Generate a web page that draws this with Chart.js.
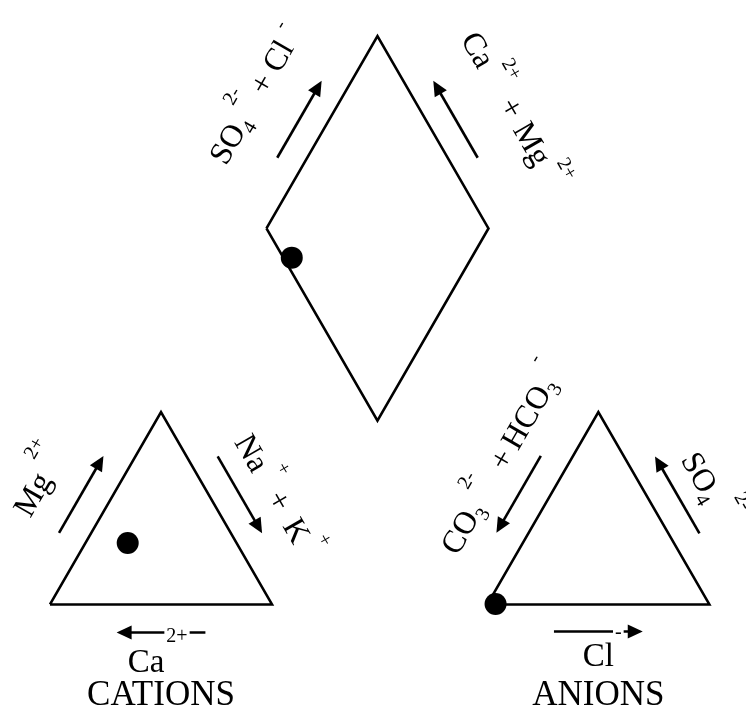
<!DOCTYPE html>
<html>
<head>
<meta charset="utf-8">
<script src="https://cdn.jsdelivr.net/npm/chart.js@4.4.1/dist/chart.umd.min.js"></script>
<style>
  html, body { margin: 0; padding: 0; background: #fff; }
</style>
</head>
<body>
<canvas id="piper" width="746" height="713"></canvas>
<script>
// one water sample, % of meq/L
const cationNames = ['Ca2+', 'Mg2+', 'Na+ + K+'];
const cationValues = [49, 32, 19];
const anionNames = ['Cl-', 'SO4 2-', 'CO3 2- + HCO3-'];
const anionValues = [3.6, 0.2, 96.2];

// piper layout, in triangle units (side = 100)
const H = Math.sqrt(3) / 2 * 100;
const ANION_X0 = 197;
const DIA_LEFT = [97.5, 169.4];

const cat = { L: [0, 0], R: [100, 0], T: [50, H] };
const an = { L: [ANION_X0, 0], R: [ANION_X0 + 100, 0], T: [ANION_X0 + 50, H] };
const dia = {
  L: DIA_LEFT,
  T: [DIA_LEFT[0] + 50, DIA_LEFT[1] + H],
  R: [DIA_LEFT[0] + 100, DIA_LEFT[1]],
  B: [DIA_LEFT[0] + 50, DIA_LEFT[1] - H]
};

function pct(arr) {
  const s = arr.reduce((a, b) => a + b, 0);
  return arr.map(v => v / s * 100);
}
const [ca, mg, nak] = pct(cationValues);
const [cl, so4, hco3] = pct(anionValues);

const cationPt = { x: nak + mg / 2, y: mg / 100 * H };
const anionPt = { x: ANION_X0 + cl + so4 / 2, y: so4 / 100 * H };
// diamond: p = SO4 + Cl, q = Ca + Mg
const p = cl + so4, q = ca + mg;
const diamondPt = { x: dia.B[0] + (p - q) / 2, y: dia.B[1] + (p + q) / 100 * H };

const toPts = vs => vs.map(v => ({ x: v[0], y: v[1] }));
const outline = (vs) => ({
  data: toPts(vs),
  showLine: true,
  borderColor: '#000',
  borderWidth: 2.6,
  borderJoinStyle: 'miter',
  pointRadius: 0,
  fill: false,
  clip: false
});

// arrows: along edge a->b, pointing to b
const arrows = [
  { a: cat.L, b: cat.T, off: 28 },
  { a: cat.T, b: cat.R, off: 27 },
  { a: cat.R, b: cat.L, off: 28 },
  { a: an.T, b: an.L, off: 28 },
  { a: an.R, b: an.T, off: 27 },
  { a: an.L, b: an.R, off: 27 },
  { a: dia.L, b: dia.T, off: 26 },
  { a: dia.R, b: dia.T, off: 26 }
];

const SUB = -7;
const labels = [
  { a: cat.L, b: cat.T, f: 0.29, off: 60, parts: [{ t: 'Mg' }, { t: '2+', s: 20, r: 26, dx: 8 }] },
  { a: cat.T, b: cat.R, f: 0.28, off: 48, parts: [{ t: 'Na' }, { t: '+', s: 20, r: 24, dx: 5 }, { t: '+', dx: 11 }, { t: 'K', dx: 14 }, { t: '+', s: 20, r: 24, dx: 5 }] },
  { a: cat.L, b: cat.R, f: 0.35, off: 67.5, parts: [{ t: 'Ca', s: 33 }, { t: '2+', s: 20, r: 30, dx: 2, bg: true }] },
  { a: cat.L, b: cat.R, f: 0.5, off: 100.5, center: true, parts: [{ t: 'CATIONS', s: 35 }] },
  { a: an.L, b: an.R, f: 0.43, off: 62, parts: [{ t: 'Cl', s: 33 }, { t: '-', s: 20, r: 28, dx: 1, bg: true }] },
  { a: an.L, b: an.R, f: 0.5, off: 100.5, center: true, parts: [{ t: 'ANIONS', s: 35 }] },
  { a: an.L, b: an.T, f: 0.12, off: 50, parts: [{ t: 'CO' }, { t: '3', s: 20, r: SUB }, { t: '2-', s: 20, r: 24, dx: 8 }, { t: '+', dx: 18 }, { t: 'HCO', dx: 6 }, { t: '3', s: 20, r: SUB }, { t: '-', s: 20, r: 26, dx: 8 }] },
  { a: an.T, b: an.R, f: 0.37, off: 47, parts: [{ t: 'SO' }, { t: '4', s: 20, r: SUB }, { t: '2-', s: 20, r: 28, dx: 8 }] },
  { a: dia.L, b: dia.T, f: 0.15, off: 66, parts: [{ t: 'SO' }, { t: '4', s: 20, r: SUB }, { t: '2-', s: 20, r: 24, dx: 5 }, { t: '+', dx: 8 }, { t: 'Cl', dx: 8 }, { t: '-', s: 20, r: 18, dx: 10 }] },
  { a: dia.T, b: dia.R, f: 0.20, off: 70, parts: [{ t: 'Ca' }, { t: '2+', s: 20, r: 24, dx: 5 }, { t: '+', dx: 14 }, { t: 'Mg', dx: 10 }, { t: '2+', s: 20, r: 22, dx: 6 }] }
];

const FONT = '"Liberation Serif", "Times New Roman", serif';

function edgeFrame(chart, a, b) {
  const xs = chart.scales.x, ys = chart.scales.y;
  const A = [xs.getPixelForValue(a[0]), ys.getPixelForValue(a[1])];
  const B = [xs.getPixelForValue(b[0]), ys.getPixelForValue(b[1])];
  const len = Math.hypot(B[0] - A[0], B[1] - A[1]);
  const d = [(B[0] - A[0]) / len, (B[1] - A[1]) / len];
  return { A, B, len, d };
}

// outward normal: away from the shape the edge belongs to
function outward(chart, a, b, d) {
  const shapes = [cat, an, dia];
  const sh = shapes.find(s => Object.values(s).includes(a) && Object.values(s).includes(b));
  const vs = Object.values(sh);
  const cx = vs.reduce((s, v) => s + v[0], 0) / vs.length;
  const cy = vs.reduce((s, v) => s + v[1], 0) / vs.length;
  const C = [chart.scales.x.getPixelForValue(cx), chart.scales.y.getPixelForValue(cy)];
  const A = [chart.scales.x.getPixelForValue(a[0]), chart.scales.y.getPixelForValue(a[1])];
  let n = [d[1], -d[0]];
  if ((A[0] - C[0]) * n[0] + (A[1] - C[1]) * n[1] < 0) n = [-n[0], -n[1]];
  return n;
}

function drawArrow(ctx, x1, y1, x2, y2) {
  const len = Math.hypot(x2 - x1, y2 - y1);
  const ux = (x2 - x1) / len, uy = (y2 - y1) / len;
  const hl = 15, hw = 7;
  ctx.beginPath();
  ctx.moveTo(x1, y1);
  ctx.lineTo(x2 - ux * hl * 0.8, y2 - uy * hl * 0.8);
  ctx.lineWidth = 2.6;
  ctx.strokeStyle = '#000';
  ctx.stroke();
  ctx.beginPath();
  ctx.moveTo(x2, y2);
  ctx.lineTo(x2 - ux * hl - uy * hw, y2 - uy * hl + ux * hw);
  ctx.lineTo(x2 - ux * hl + uy * hw, y2 - uy * hl - ux * hw);
  ctx.closePath();
  ctx.fillStyle = '#000';
  ctx.fill();
}

function drawParts(ctx, parts, center) {
  let w = 0;
  const items = parts.map(pt => {
    const size = pt.s || 32;
    ctx.font = size + 'px ' + FONT;
    const tw = ctx.measureText(pt.t).width;
    const it = { pt, size, x: w + (pt.dx || 0), tw };
    w = it.x + tw;
    return it;
  });
  const shift = center ? -w / 2 : 0;
  items.forEach(it => {
    ctx.font = it.size + 'px ' + FONT;
    const x = it.x + shift, y = -(it.pt.r || 0);
    if (it.pt.bg) {
      ctx.fillStyle = '#fff';
      ctx.fillRect(x - 2, y - it.size * 0.78, it.tw + 4, it.size * 0.9);
    }
    ctx.fillStyle = '#000';
    ctx.fillText(it.pt.t, x, y);
  });
}

const piperDecor = {
  id: 'piperDecor',
  afterDatasetsDraw(chart) {
    const ctx = chart.ctx;
    ctx.save();
    arrows.forEach(ar => {
      const { A, len, d } = edgeFrame(chart, ar.a, ar.b);
      const n = outward(chart, ar.a, ar.b, d);
      const s = [A[0] + d[0] * len * 0.3 + n[0] * ar.off, A[1] + d[1] * len * 0.3 + n[1] * ar.off];
      const e = [A[0] + d[0] * len * 0.7 + n[0] * ar.off, A[1] + d[1] * len * 0.7 + n[1] * ar.off];
      drawArrow(ctx, s[0], s[1], e[0], e[1]);
    });
    ctx.textBaseline = 'alphabetic';
    ctx.textAlign = 'left';
    labels.forEach(lb => {
      const { A, len, d } = edgeFrame(chart, lb.a, lb.b);
      const n = outward(chart, lb.a, lb.b, d);
      const x = A[0] + d[0] * len * lb.f + n[0] * lb.off;
      const y = A[1] + d[1] * len * lb.f + n[1] * lb.off;
      ctx.save();
      ctx.translate(x, y);
      ctx.rotate(Math.atan2(d[1], d[0]));
      drawParts(ctx, lb.parts, lb.center);
      ctx.restore();
    });
    ctx.restore();
  }
};

new Chart(document.getElementById('piper'), {
  type: 'scatter',
  data: {
    datasets: [
      outline([cat.L, cat.R, cat.T, cat.L]),
      outline([an.L, an.R, an.T, an.L]),
      outline([dia.L, dia.T, dia.R, dia.B, dia.L]),
      {
        label: 'sample',
        data: [cationPt, anionPt, diamondPt],
        pointRadius: 11,
        pointBackgroundColor: '#000',
        pointBorderWidth: 0,
        showLine: false,
        clip: false
      }
    ]
  },
  options: {
    responsive: false,
    devicePixelRatio: 1,
    animation: false,
    layout: { padding: 0, autoPadding: false },
    plugins: { legend: { display: false }, tooltip: { enabled: false } },
    scales: {
      x: { type: 'linear', min: -22.52, max: 313.5, display: false },
      y: { type: 'linear', min: -48.9, max: 272.3, display: false }
    }
  },
  plugins: [piperDecor]
});
</script>
</body>
</html>
